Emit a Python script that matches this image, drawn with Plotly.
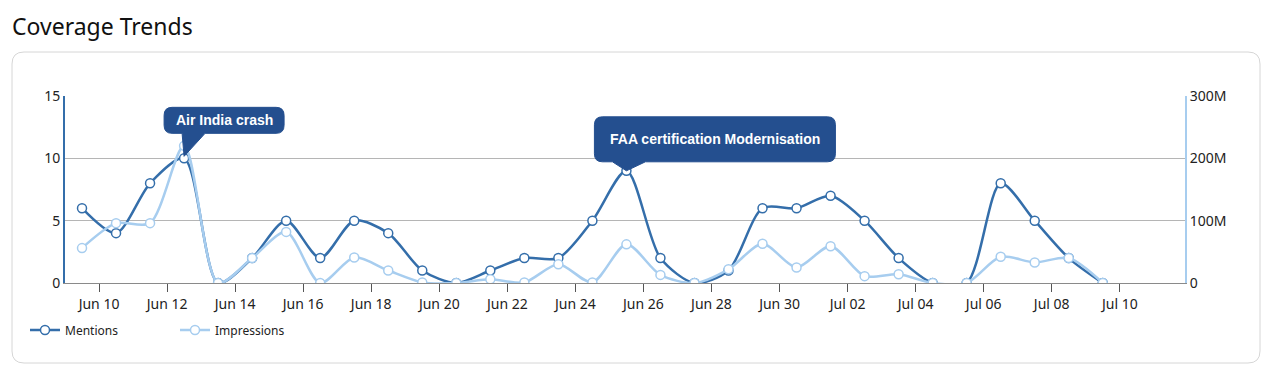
import plotly.graph_objects as go

# ---------------- data ----------------
dates = [
    "2025-06-09 12:00", "2025-06-10 12:00", "2025-06-11 12:00", "2025-06-12 12:00",
    "2025-06-13 12:00", "2025-06-14 12:00", "2025-06-15 12:00", "2025-06-16 12:00",
    "2025-06-17 12:00", "2025-06-18 12:00", "2025-06-19 12:00", "2025-06-20 12:00",
    "2025-06-21 12:00", "2025-06-22 12:00", "2025-06-23 12:00", "2025-06-24 12:00",
    "2025-06-25 12:00", "2025-06-26 12:00", "2025-06-27 12:00", "2025-06-28 12:00",
    "2025-06-29 12:00", "2025-06-30 12:00", "2025-07-01 12:00", "2025-07-02 12:00",
    "2025-07-03 12:00", "2025-07-04 12:00", "2025-07-05 12:00", "2025-07-06 12:00",
    "2025-07-07 12:00", "2025-07-08 12:00", "2025-07-09 12:00",
]
mentions = [6, 4, 8, 10, 0, 2, 5, 2, 5, 4, 1, 0, 1, 2, 2, 5, 9, 2, 0, 1, 6, 6, 7, 5, 2, 0, 0, 8, 5, 2, 0]
impressions_m = [56, 96, 96, 220, 0, 40, 82, 0, 41, 20, 1, 0, 6, 1, 30, 1, 62, 13, 0, 22,
                 63, 25, 59, 11, 14, 0, 0, 42, 33, 40, 0]
impressions = [v * 1e6 for v in impressions_m]

event_dates = ["2025-06-12 12:00", "2025-06-25 12:00"]
event_values = [10, 9]
event_labels = ["Air India crash", "FAA certification Modernisation"]

y2_tickvals = [0, 100e6, 200e6, 300e6]
y2_ticktext = ["0", "100M", "200M", "300M"]

# ---------------- style ----------------
C_MENTIONS = "#346eaa"
C_IMPR = "#a7cdef"
C_BOX = "#244f8f"
FONT = "Noto Sans"

fig = go.Figure()
fig.add_trace(go.Scatter(
    x=dates, y=mentions, name="Mentions", mode="lines+markers",
    line=dict(color=C_MENTIONS, width=2.5, shape="spline", smoothing=0.8),
    marker=dict(size=9, color="white", line=dict(color=C_MENTIONS, width=1.5)),
))
fig.add_trace(go.Scatter(
    x=dates, y=impressions, name="Impressions", mode="lines+markers", yaxis="y2",
    line=dict(color=C_IMPR, width=2.5, shape="spline", smoothing=0.8),
    marker=dict(size=9, color="white", line=dict(color=C_IMPR, width=1.5)),
))


def rounded_path(l, r, b, t, rad, pointer=None):
    p = f"M {l+rad},{t} L {r-rad},{t} Q {r},{t} {r},{t-rad} L {r},{b+rad} Q {r},{b} {r-rad},{b} "
    if pointer:
        (b0, b1, tx, ty) = pointer
        p += f"L {b1},{b} L {tx},{ty} L {b0},{b} "
    p += f"L {l+rad},{b} Q {l},{b} {l},{b+rad} L {l},{t-rad} Q {l},{t} {l+rad},{t} Z"
    return p


shapes = []
# card border (pixel offsets relative to plot-area bottom-left)
shapes.append(dict(
    type="path", xref="paper", yref="paper", xsizemode="pixel", ysizemode="pixel",
    xanchor=0, yanchor=0, path=rounded_path(-53, 1195, -80, 231, 12),
    line=dict(color="#d6d6d6", width=1), fillcolor="rgba(0,0,0,0)", layer="below",
))

# callouts geometry (pixels relative to the data point): l, r, b, t, pointer
callout_geom = [
    (-20, 100, 25, 51, (-2, 21, 0, 2)),
    (-32, 209, 9, 54, (-14, 19, 0, 0)),
]
annotations = []
for d, v, lab, g in zip(event_dates, event_values, event_labels, callout_geom):
    l, r, b, t, ptr = g
    shapes.append(dict(
        type="path", xref="x", yref="y", xsizemode="pixel", ysizemode="pixel",
        xanchor=d, yanchor=v, path=rounded_path(l, r, b, t, 8, ptr),
        line=dict(color=C_BOX, width=1), fillcolor=C_BOX, layer="above",
    ))
    annotations.append(dict(
        x=d, y=v, xref="x", yref="y", text=f"<b>{lab}</b>", showarrow=False,
        xshift=(l + r) / 2, yshift=(b + t) / 2,
        font=dict(family="Liberation Sans", size=14, color="white"),
        xanchor="center", yanchor="middle",
    ))

fig.update_layout(
    width=1279, height=379,
    margin=dict(l=65, r=94, t=96, b=96),
    paper_bgcolor="white", plot_bgcolor="white",
    font=dict(family=FONT, size=14, color="#222222"),
    title=dict(text="Coverage Trends", x=12 / 1279, xanchor="left", xref="container",
               y=1 - 27 / 379, yanchor="middle", yref="container",
               font=dict(family=FONT, size=23, color="#111111")),
    showlegend=True,
    legend=dict(orientation="h", x=-40 / 1120, xanchor="left", y=(283 - 330) / 187,
                yanchor="middle", font=dict(family=FONT, size=12, color="#222222"),
                entrywidth=105, entrywidthmode="pixels", bgcolor="rgba(0,0,0,0)"),
    xaxis=dict(type="date", range=["2025-06-09", "2025-07-11 22:00"], tick0="2025-06-10",
               dtick=2 * 86400000, tickformat="%b %d", ticks="outside", ticklen=8,
               tickcolor="#555555", showgrid=False, showline=True, linecolor="#8a8a8a",
               linewidth=1, zeroline=False, tickfont=dict(size=14)),
    yaxis=dict(range=[0, 15], dtick=5, showgrid=True, gridcolor="#b5b5b5", gridwidth=1,
               showline=True, linecolor=C_MENTIONS, linewidth=2, zeroline=False,
               ticks="", tickfont=dict(size=14)),
    yaxis2=dict(overlaying="y", side="right", range=[0, 300e6], tickvals=y2_tickvals,
                ticktext=y2_ticktext, showgrid=False, showline=True, linecolor=C_IMPR,
                linewidth=2, zeroline=False, ticks="", tickfont=dict(size=14)),
    shapes=shapes, annotations=annotations,
)

fig.write_html("out.html")
